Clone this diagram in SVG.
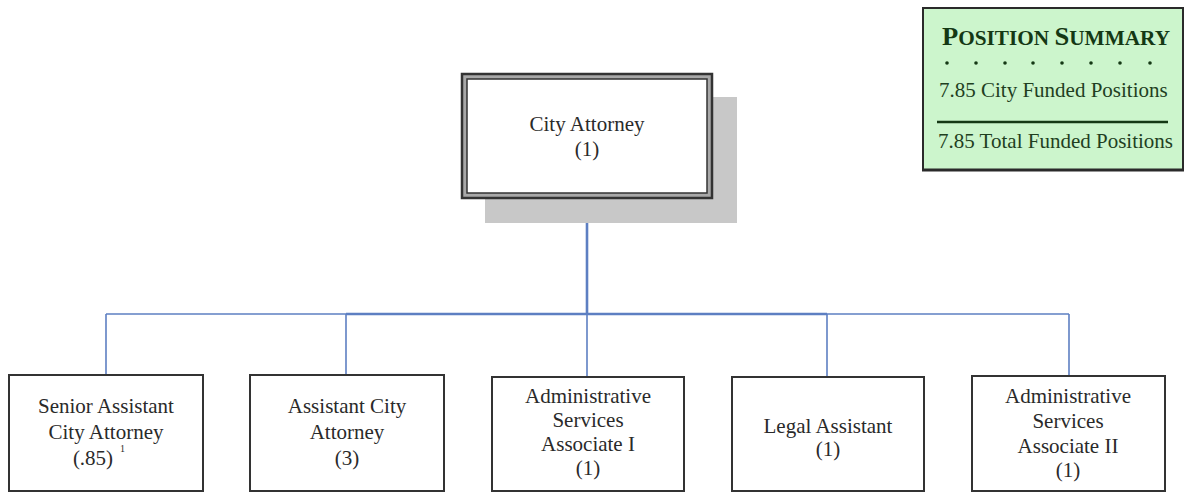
<svg xmlns="http://www.w3.org/2000/svg" width="1186" height="494" viewBox="0 0 1186 494">
<style>
  text { font-family: "Liberation Serif", "Times New Roman", serif; fill: #2a2a2a; }
  .n { font-size: 21px; text-anchor: middle; }
  .box { fill: #ffffff; stroke: #333333; stroke-width: 2; }
  .conn { stroke: #5d7fc2; fill: none; }
  .sum { font-size: 21px; fill: #1f3f1f; }
</style>
<rect width="1186" height="494" fill="#ffffff"/>

<g id="connectors">
  <line class="conn" x1="106" y1="314" x2="1069" y2="314" stroke-width="1.6"/>
  <line class="conn" x1="346" y1="314" x2="827" y2="314" stroke-width="2.6" stroke="#5673ad"/>
  <line class="conn" x1="587" y1="199" x2="587" y2="314" stroke-width="2.6" stroke="#4a6cb8"/>
  <line class="conn" x1="106" y1="314" x2="106" y2="375" stroke-width="1.6"/>
  <line class="conn" x1="346" y1="314" x2="346" y2="375" stroke-width="1.6"/>
  <line class="conn" x1="587" y1="314" x2="587" y2="377" stroke-width="1.6"/>
  <line class="conn" x1="827" y1="314" x2="827" y2="377" stroke-width="1.6"/>
  <line class="conn" x1="1069" y1="314" x2="1069" y2="376" stroke-width="1.6"/>
</g>

<g id="city-attorney">
  <rect x="485" y="97" width="252" height="126" fill="#c8c8c8"/>
  <rect x="462" y="74" width="250" height="124" fill="#a8a8a8" stroke="#333333" stroke-width="2.5"/>
  <rect x="467" y="79" width="240" height="114" fill="#ffffff" stroke="#333333" stroke-width="1.5"/>
  <text class="n" x="587" y="131">City Attorney</text>
  <text class="n" x="587" y="156">(1)</text>
</g>

<g id="senior-assistant">
  <rect class="box" x="9" y="375" width="194" height="116"/>
  <text class="n" x="106" y="413">Senior Assistant</text>
  <text class="n" x="106" y="439">City Attorney</text>
  <text class="n" x="93" y="465">(.85)</text>
  <text x="120" y="452" style="font-size:10px">1</text>
</g>

<g id="assistant-city-attorney">
  <rect class="box" x="250" y="375" width="194" height="116"/>
  <text class="n" x="347" y="413">Assistant City</text>
  <text class="n" x="347" y="439">Attorney</text>
  <text class="n" x="347" y="465">(3)</text>
</g>

<g id="asa-1">
  <rect class="box" x="492" y="377" width="192" height="114"/>
  <text class="n" x="588" y="403">Administrative</text>
  <text class="n" x="588" y="427">Services</text>
  <text class="n" x="588" y="451">Associate I</text>
  <text class="n" x="588" y="475">(1)</text>
</g>

<g id="legal-assistant">
  <rect class="box" x="732" y="377" width="192" height="114"/>
  <text class="n" x="828" y="433">Legal Assistant</text>
  <text class="n" x="828" y="456">(1)</text>
</g>

<g id="asa-2">
  <rect class="box" x="972" y="376" width="193" height="115"/>
  <text class="n" x="1068" y="403">Administrative</text>
  <text class="n" x="1068" y="428">Services</text>
  <text class="n" x="1068" y="453">Associate II</text>
  <text class="n" x="1068" y="477">(1)</text>
</g>

<g id="position-summary">
  <rect x="923" y="8" width="260" height="162" fill="#ccf5cc" stroke="#2a2a2a" stroke-width="2"/>
  <line x1="922" y1="170" x2="1184" y2="170" stroke="#2a2a2a" stroke-width="3"/>
  <text x="942" y="45" style="font-weight:bold;fill:#143814;font-size:20px" textLength="228" lengthAdjust="spacingAndGlyphs"><tspan style="font-size:25px">P</tspan>OSITION <tspan style="font-size:25px">S</tspan>UMMARY</text>
  <g fill="#143814">
    <circle cx="947" cy="63" r="1.8"/>
    <circle cx="976" cy="63" r="1.8"/>
    <circle cx="1005" cy="63" r="1.8"/>
    <circle cx="1033" cy="63" r="1.8"/>
    <circle cx="1062" cy="63" r="1.8"/>
    <circle cx="1091" cy="63" r="1.8"/>
    <circle cx="1120" cy="63" r="1.8"/>
    <circle cx="1150" cy="63" r="1.8"/>
  </g>
  <text class="sum" x="939" y="97">7.85 City Funded Positions</text>
  <line x1="937" y1="122" x2="1168" y2="122" stroke="#143814" stroke-width="2.5"/>
  <text class="sum" x="938" y="148">7.85 Total Funded Positions</text>
</g>
</svg>
